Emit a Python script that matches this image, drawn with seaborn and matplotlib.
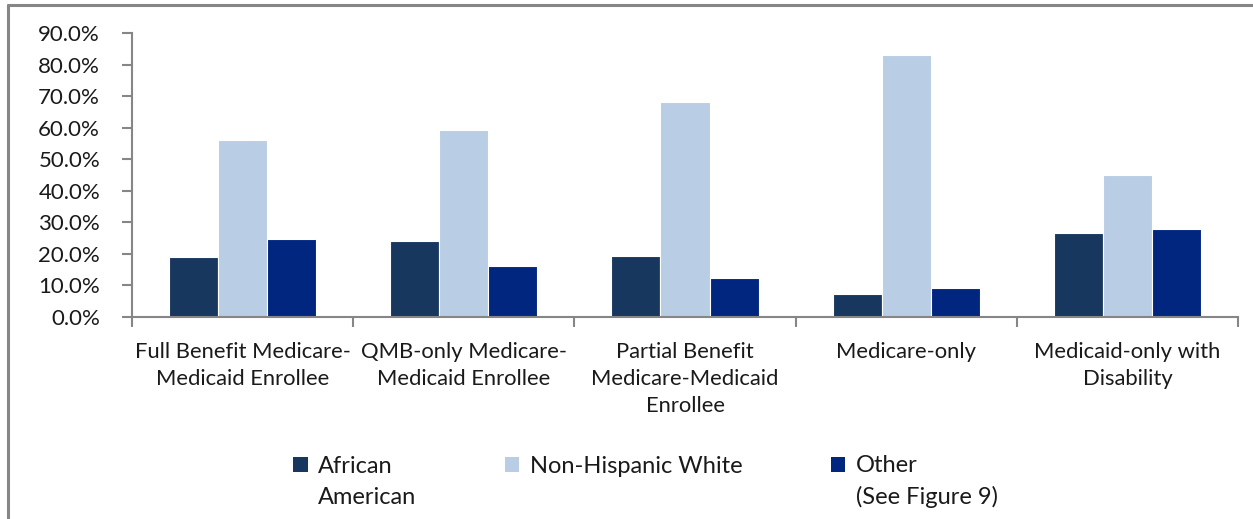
import matplotlib
matplotlib.use("Agg")
import matplotlib.pyplot as plt
from matplotlib.patches import Patch, Rectangle
from matplotlib.lines import Line2D
from matplotlib.legend_handler import HandlerPatch
from matplotlib.ticker import FuncFormatter, FixedLocator
import seaborn as sns
import pandas as pd

categories = [
    "Full Benefit Medicare-\nMedicaid Enrollee",
    "QMB-only Medicare-\nMedicaid Enrollee",
    "Partial Benefit\nMedicare-Medicaid\nEnrollee",
    "Medicare-only",
    "Medicaid-only with\nDisability",
]
series_names = ["African\nAmerican", "Non-Hispanic White", "Other\n(See Figure 9)"]
african_american = [19.1, 24.0, 19.3, 7.4, 26.7]
non_hispanic_white = [56.0, 59.3, 68.2, 83.1, 45.1]
other = [24.6, 16.1, 12.3, 9.1, 27.8]
colors = ["#17375E", "#B9CDE5", "#002680"]

rows = []
for name, vals in zip(series_names, [african_american, non_hispanic_white, other]):
    for cat, v in zip(categories, vals):
        rows.append({"category": cat, "group": name, "share": v})
df = pd.DataFrame(rows)

sns.set_style("white")
plt.rcParams["font.family"] = ["Lato", "DejaVu Sans"]

fig = plt.figure(figsize=(12.53, 5.19), dpi=100)
ax = fig.add_axes([132 / 1253, 1 - 317 / 519, (1238 - 132) / 1253, (317 - 33) / 519])

sns.barplot(data=df, x="category", y="share", hue="group", order=categories,
            hue_order=series_names, palette=colors, width=0.665,
            edgecolor="white", linewidth=0.8, saturation=1, ax=ax, legend=False)

axis_color = "#868686"
ax.set_xlim(-0.5, len(categories) - 0.5)
ax.set_ylim(0, 90)
ax.yaxis.set_major_locator(FixedLocator(range(0, 91, 10)))
ax.yaxis.set_major_formatter(FuncFormatter(lambda v, _: f"{v:.1f}%"))
ax.set_xlabel("")
ax.set_ylabel("")

for side in ["top", "right"]:
    ax.spines[side].set_visible(False)
for side in ["left", "bottom"]:
    ax.spines[side].set_color(axis_color)
    ax.spines[side].set_linewidth(1.5)

ax.tick_params(axis="y", which="major", direction="out", length=7, width=1.5,
               color=axis_color, labelsize=16, labelcolor="#1a1a1a", pad=16, left=True)
ax.set_xticks(range(len(categories)))
ax.set_xticklabels(categories, fontsize=15.8, linespacing=1.45)
ax.tick_params(axis="x", which="major", length=0, pad=18, labelcolor="#1a1a1a")
ax.set_xticks([i - 0.5 for i in range(len(categories) + 1)], minor=True)
ax.tick_params(axis="x", which="minor", direction="out", length=7, width=1.5,
               color=axis_color, bottom=True)
ax.grid(False)


def top_aligned_square(legend, orig_handle, xdescent, ydescent, width, height, fontsize):
    # keep the swatch level with the first line of a two-line label
    return Rectangle((-xdescent, -ydescent + 0.74 * fontsize), width, height)


handles = [Patch(facecolor=c, edgecolor="none") for c in colors]
legend_labels = [series_names[0], series_names[1] + "\n ", series_names[2]]
leg = fig.legend(handles, legend_labels, ncol=3, loc="upper left",
                 bbox_to_anchor=(284 / 1253, 1 - 446 / 519), frameon=False,
                 fontsize=17, handlelength=0.6, handleheight=0.6, handletextpad=0.45,
                 columnspacing=3.75, borderaxespad=0,
                 handler_map={Patch: HandlerPatch(patch_func=top_aligned_square)})
for t in leg.get_texts():
    t.set_linespacing(1.55)
    t.set_color("#1a1a1a")

# chart-area border
border = dict(color=axis_color, linewidth=2.2, transform=fig.transFigure)
fig.add_artist(Line2D([7.5 / 1253, 7.5 / 1253], [0, 1 - 5 / 519], **border))
fig.add_artist(Line2D([7.5 / 1253, 1], [1 - 5 / 519, 1 - 5 / 519], **border))

fig.savefig("out.png", dpi=100)
